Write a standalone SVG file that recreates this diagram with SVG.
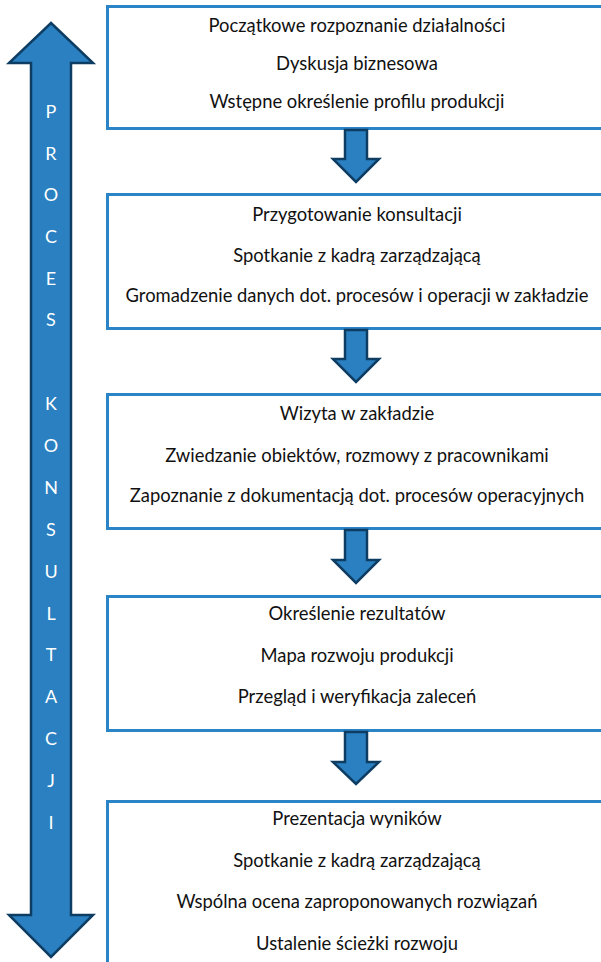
<svg xmlns="http://www.w3.org/2000/svg" width="601" height="962" viewBox="0 0 601 962">
<style>
.box{fill:#ffffff;stroke:#2b84c6;stroke-width:3}
.arr{fill:#2a80c0;stroke:#0e3d63;stroke-width:2.5;stroke-linejoin:miter}
.t{font-family:Lato,"Open Sans","Liberation Sans",sans-serif;font-size:18.4px;fill:#111111;text-anchor:middle}
.v{font-family:Lato,"Open Sans","Liberation Sans",sans-serif;font-size:18px;fill:#ffffff;text-anchor:middle}
</style>
<rect width="601" height="962" fill="#ffffff"/>
<g id="process-arrow">
<path class="arr" d="M51,23 L93,63 L71,63 L71,915 L93,915 L51,957 L9,915 L31,915 L31,63 L9,63 Z"/>
<text class="v" x="51" y="118">P</text>
<text class="v" x="51" y="160">R</text>
<text class="v" x="51" y="201">O</text>
<text class="v" x="51" y="243">C</text>
<text class="v" x="51" y="285">E</text>
<text class="v" x="51" y="326">S</text>
<text class="v" x="51" y="410">K</text>
<text class="v" x="51" y="452">O</text>
<text class="v" x="51" y="494">N</text>
<text class="v" x="51" y="536">S</text>
<text class="v" x="51" y="578">U</text>
<text class="v" x="51" y="620">L</text>
<text class="v" x="51" y="661">T</text>
<text class="v" x="51" y="703">A</text>
<text class="v" x="51" y="745">C</text>
<text class="v" x="51" y="787">J</text>
<text class="v" x="51" y="829">I</text>
</g>
<g id="box1">
<rect class="box" x="107.5" y="6.5" width="510" height="122"/>
<text class="t" x="357" y="32">Początkowe rozpoznanie działalności</text>
<text class="t" x="357" y="70">Dyskusja biznesowa</text>
<text class="t" x="357" y="108">Wstępne określenie profilu produkcji</text>
</g>
<g id="box2">
<rect class="box" x="107.5" y="194.5" width="510" height="134"/>
<text class="t" x="357" y="221">Przygotowanie konsultacji</text>
<text class="t" x="357" y="262">Spotkanie z kadrą zarządzającą</text>
<text class="t" x="357" y="302">Gromadzenie danych dot. procesów i operacji w zakładzie</text>
</g>
<g id="box3">
<rect class="box" x="107.5" y="394.5" width="510" height="134"/>
<text class="t" x="357" y="420">Wizyta w zakładzie</text>
<text class="t" x="357" y="462">Zwiedzanie obiektów, rozmowy z pracownikami</text>
<text class="t" x="357" y="502">Zapoznanie z dokumentacją dot. procesów operacyjnych</text>
</g>
<g id="box4">
<rect class="box" x="107.5" y="596.5" width="510" height="134"/>
<text class="t" x="357" y="620">Określenie rezultatów</text>
<text class="t" x="357" y="662">Mapa rozwoju produkcji</text>
<text class="t" x="357" y="703">Przegląd i weryfikacja zaleceń</text>
</g>
<g id="box5">
<rect class="box" x="107.5" y="801.5" width="510" height="180"/>
<text class="t" x="357" y="825">Prezentacja wyników</text>
<text class="t" x="357" y="867">Spotkanie z kadrą zarządzającą</text>
<text class="t" x="357" y="908">Wspólna ocena zaproponowanych rozwiązań</text>
<text class="t" x="357" y="950">Ustalenie ścieżki rozwoju</text>
</g>
<g id="connectors">
<path class="arr" d="M345,130 L367,130 L367,159 L379,159 L356,182 L333,159 L345,159 Z"/>
<path class="arr" d="M345,330 L367,330 L367,359 L379,359 L356,382 L333,359 L345,359 Z"/>
<path class="arr" d="M345,530 L367,530 L367,560 L379,560 L356,583 L333,560 L345,560 Z"/>
<path class="arr" d="M345,732 L367,732 L367,762 L379,762 L356,784 L333,762 L345,762 Z"/>
</g>
</svg>
